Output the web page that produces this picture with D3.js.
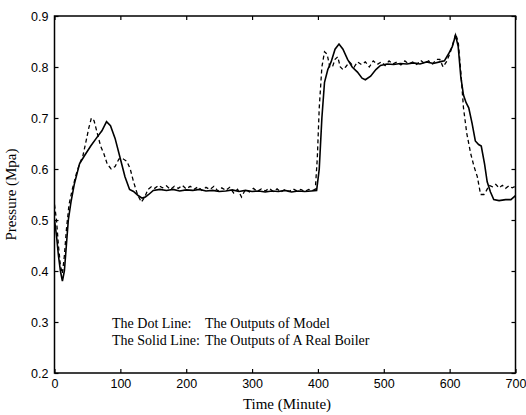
<!DOCTYPE html>
<html>
<head>
<meta charset="utf-8">
<script src="https://cdn.jsdelivr.net/npm/d3@7/dist/d3.min.js"></script>
<style>
html,body{margin:0;padding:0;background:#fff;}
svg{display:block;}
</style>
</head>
<body>
<svg id="chart" width="526" height="415"></svg>
<script>
const xTicks = [0, 100, 200, 300, 400, 500, 600, 700];
const yTicks = [0.2, 0.3, 0.4, 0.5, 0.6, 0.7, 0.8, 0.9];
const yTickLabels = ["0.2", "0.3", "0.4", "0.5", "0.6", "0.7", "0.8", "0.9"];

const solidTime = [0,3,6,9,12,15,18,21,25,30,38,45,55,65,72,79,85,92,100,107,114,120,127,133,138,143,150,160,170,180,190,200,210,220,230,240,250,260,270,280,290,300,310,320,330,340,350,360,370,380,390,398,402,406,410,415,420,426,432,438,445,452,460,467,472,480,488,495,505,515,525,535,545,555,565,575,585,592,598,604,609,613,617,621,625,629,634,639,644,648,653,657,662,667,675,685,693,700];
const solidValues = [0.50,0.47,0.43,0.40,0.38,0.40,0.45,0.50,0.535,0.57,0.61,0.625,0.645,0.663,0.675,0.693,0.685,0.66,0.62,0.585,0.56,0.556,0.548,0.543,0.545,0.55,0.558,0.56,0.558,0.56,0.557,0.559,0.558,0.56,0.557,0.558,0.556,0.557,0.559,0.556,0.558,0.556,0.557,0.555,0.557,0.556,0.558,0.555,0.557,0.556,0.557,0.558,0.60,0.70,0.77,0.795,0.81,0.835,0.845,0.835,0.815,0.80,0.79,0.778,0.775,0.782,0.795,0.803,0.806,0.805,0.807,0.806,0.808,0.806,0.81,0.807,0.81,0.812,0.825,0.84,0.862,0.84,0.78,0.745,0.73,0.72,0.69,0.655,0.648,0.645,0.61,0.575,0.555,0.54,0.538,0.54,0.54,0.548];

const dashTime = [0,3,6,9,12,15,18,22,27,33,38,43,48,52,56,60,65,70,75,80,86,92,98,104,110,115,120,126,132,137,142,147,152,158,164,170,176,182,188,194,200,206,212,218,224,230,236,242,248,254,260,266,272,278,284,290,296,302,308,314,320,326,332,338,344,350,356,362,368,374,380,386,392,396,399,402,406,410,414,418,422,426,430,434,438,442,448,455,460,466,472,478,484,490,496,502,508,514,520,526,532,538,544,550,556,562,568,574,580,585,590,595,600,605,609,613,617,621,626,632,637,642,647,652,656,660,665,670,675,680,685,690,695,700];
const dashValues = [0.53,0.50,0.45,0.41,0.395,0.43,0.48,0.53,0.56,0.59,0.61,0.625,0.655,0.68,0.70,0.695,0.67,0.645,0.63,0.61,0.60,0.605,0.62,0.62,0.615,0.60,0.575,0.55,0.535,0.545,0.56,0.565,0.562,0.568,0.563,0.567,0.56,0.566,0.562,0.568,0.561,0.566,0.56,0.565,0.558,0.564,0.56,0.566,0.557,0.563,0.558,0.564,0.553,0.56,0.545,0.56,0.555,0.562,0.556,0.561,0.557,0.562,0.556,0.561,0.555,0.56,0.556,0.561,0.557,0.56,0.556,0.56,0.558,0.56,0.62,0.72,0.80,0.83,0.825,0.80,0.80,0.815,0.82,0.80,0.795,0.80,0.81,0.80,0.81,0.805,0.81,0.80,0.812,0.805,0.81,0.803,0.812,0.806,0.81,0.804,0.812,0.806,0.81,0.805,0.813,0.807,0.812,0.806,0.815,0.815,0.80,0.81,0.825,0.845,0.865,0.85,0.79,0.72,0.67,0.63,0.605,0.585,0.55,0.55,0.558,0.568,0.565,0.57,0.563,0.568,0.562,0.567,0.563,0.566];

const legendLabels = ["The Dot Line:", "The Solid Line:"];
const legendTexts = ["The Outputs of Model", "The Outputs of A Real Boiler"];
const xTitle = "Time (Minute)";
const yTitle = "Pressure (Mpa)";

(function () {
const svg = d3.select("#chart");
const L = 54.5, R = 515.5, T = 16, B = 373;
const x = d3.scaleLinear().domain([0, 700]).range([L, R]);
const y = d3.scaleLinear().domain([0.2, 0.9]).range([B, T]);

svg.append("rect").attr("width", 526).attr("height", 415).attr("fill", "#fff");

const tickFont = "Arial, 'Liberation Sans', sans-serif";
const serif = "'Times New Roman', 'Liberation Serif', serif";

const gBottom = svg.append("g").attr("transform", `translate(0,${B})`)
  .call(d3.axisBottom(x).tickValues(xTicks).tickSize(-4).tickPadding(6).tickFormat(d3.format("d")));
const gTop = svg.append("g").attr("transform", `translate(0,${T})`)
  .call(d3.axisTop(x).tickValues(xTicks).tickSize(-4).tickFormat(""));
const gLeft = svg.append("g").attr("transform", `translate(${L},0)`)
  .call(d3.axisLeft(y).tickValues(yTicks).tickSize(-4).tickPadding(6).tickFormat((d, i) => yTickLabels[i]));
const gRight = svg.append("g").attr("transform", `translate(${R},0)`)
  .call(d3.axisRight(y).tickValues(yTicks).tickSize(-4).tickFormat(""));

[gBottom, gTop, gLeft, gRight].forEach(g => {
  g.select(".domain").remove();
  g.selectAll(".tick line").attr("stroke", "#000").attr("stroke-width", 1.2);
  g.selectAll("text").attr("font-family", tickFont).attr("font-size", 12.5).attr("fill", "#000");
});

svg.append("rect").attr("x", L).attr("y", T).attr("width", R - L).attr("height", B - T)
  .attr("fill", "none").attr("stroke", "#000").attr("stroke-width", 1.5);

svg.append("clipPath").attr("id", "clip").append("rect")
  .attr("x", L).attr("y", T).attr("width", R - L).attr("height", B - T);

const line = d3.line().x(d => x(d[0])).y(d => y(d[1]));

svg.append("path")
  .datum(solidTime.map((t, i) => [t, solidValues[i]]))
  .attr("d", line).attr("fill", "none").attr("stroke", "#000").attr("stroke-width", 1.6)
  .attr("clip-path", "url(#clip)");

svg.append("path")
  .datum(dashTime.map((t, i) => [t, dashValues[i]]))
  .attr("d", line).attr("fill", "none").attr("stroke", "#000").attr("stroke-width", 1.3)
  .attr("stroke-dasharray", "4,3")
  .attr("clip-path", "url(#clip)");

legendLabels.forEach((s, i) => {
  svg.append("text").attr("x", 112).attr("y", 328 + i * 17)
    .attr("font-family", serif).attr("font-size", 14).attr("fill", "#000").text(s);
  svg.append("text").attr("x", 205).attr("y", 328 + i * 17)
    .attr("font-family", serif).attr("font-size", 14).attr("fill", "#000").text(legendTexts[i]);
});

svg.append("text").attr("x", 287).attr("y", 409).attr("text-anchor", "middle")
  .attr("font-family", serif).attr("font-size", 15).attr("fill", "#000").text(xTitle);
svg.append("text").attr("transform", `translate(16,${(T + B) / 2}) rotate(-90)`)
  .attr("text-anchor", "middle")
  .attr("font-family", serif).attr("font-size", 15).attr("fill", "#000").text(yTitle);
})();
</script>
</body>
</html>
